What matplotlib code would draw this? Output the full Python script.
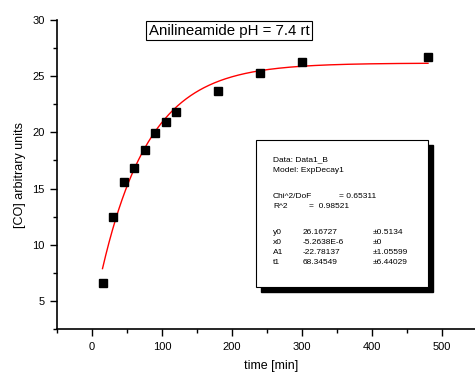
import numpy as np
import matplotlib.pyplot as plt
from matplotlib.ticker import MultipleLocator
from matplotlib.patches import Rectangle

plt.rcParams['font.family'] = ['Liberation Sans', 'DejaVu Sans']

# measured CO release
t_min = [15, 30, 45, 60, 75, 90, 105, 120, 180, 240, 300, 480]
co = [6.6, 12.5, 15.6, 16.8, 18.4, 19.9, 20.9, 21.8, 23.7, 25.3, 26.3, 26.7]

# ExpDecay1 fit: y = y0 + A1*exp(-(x - x0)/t1)
y0 = 26.16727
x0 = -5.2638e-6
A1 = -22.78137
t1 = 68.34549

fig = plt.figure(figsize=(4.75, 3.76), dpi=100)
ax = fig.add_axes([57 / 475, 47 / 376, 420 / 475, 309 / 376])

xf = np.linspace(min(t_min), max(t_min), 300)
yf = y0 + A1 * np.exp(-(xf - x0) / t1)
ax.plot(xf, yf, color='red', lw=1.0, zorder=2)
ax.plot(t_min, co, 's', color='black', ms=5.2, zorder=3, clip_on=False)

ax.set_xlim(-50, 550)
ax.set_ylim(2.5, 30)
ax.xaxis.set_minor_locator(MultipleLocator(50))
ax.yaxis.set_minor_locator(MultipleLocator(2.5))
ax.set_yticks([5, 10, 15, 20, 25, 30])
ax.set_xticks([0, 100, 200, 300, 400, 500])

for s in ['top', 'right']:
    ax.spines[s].set_visible(False)
for s in ['left', 'bottom']:
    ax.spines[s].set_linewidth(1.2)
ax.tick_params(which='major', direction='out', length=5, width=1.0, labelsize=8, pad=4)
ax.tick_params(which='minor', direction='out', length=3, width=1.0)

fig.text(271 / 475, 1 - 366 / 376, 'time [min]', ha='center', va='center', fontsize=9)
fig.text(20 / 475, 1 - 175 / 376, '[CO] arbitrary units', ha='center', va='center',
         rotation=90, fontsize=9)

# title box
fig.text(229 / 475, 1 - 30.5 / 376, 'Anilineamide pH = 7.4 rt', ha='center', va='center',
         fontsize=10.8,
         bbox=dict(boxstyle='square,pad=0.15', fc='white', ec='black', lw=0.8))

# fit results panel with drop shadow
bx0, by0, bx1, by1 = 256, 140, 428, 287
shadow = Rectangle(((bx0 + 5) / 475, 1 - (by1 + 5) / 376), (bx1 - bx0) / 475,
                   (by1 - by0) / 376, transform=fig.transFigure, fc='black', ec='black',
                   zorder=5)
panel = Rectangle((bx0 / 475, 1 - by1 / 376), (bx1 - bx0) / 475, (by1 - by0) / 376,
                  transform=fig.transFigure, fc='white', ec='black', lw=0.8, zorder=6)
fig.patches.extend([shadow, panel])

fs = 6.0
def put(x, y, s):
    fig.text(x / 475, 1 - y / 376, s, ha='left', va='center', fontsize=fs, zorder=7)

put(273, 160, 'Data: Data1_B')
put(273, 170, 'Model: ExpDecay1')
put(273, 197, 'Chi^2/DoF')
put(339, 197, '= 0.65311')
put(273, 207, 'R^2')
put(309, 207, '=  0.98521')
rows = [('y0', '26.16727', '\u00b10.5134'),
        ('x0', '-5.2638E-6', '\u00b10'),
        ('A1', '-22.78137', '\u00b11.05599'),
        ('t1', '68.34549', '\u00b16.44029')]
for i, (name, val, err) in enumerate(rows):
    yy = 232 + i * 10.3
    put(273, yy, name)
    put(303, yy, val)
    put(373, yy, err)

fig.savefig('out.png', dpi=100)
